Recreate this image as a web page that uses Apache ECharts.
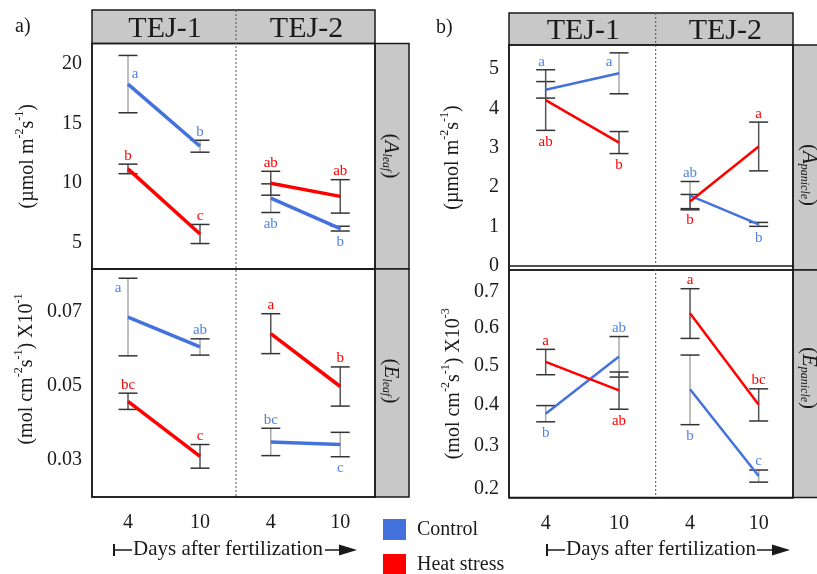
<!DOCTYPE html>
<html>
<head>
<meta charset="utf-8">
<script src="https://cdn.jsdelivr.net/npm/echarts@6/dist/echarts.min.js"></script>
<style>
  html, body { margin: 0; padding: 0; background: #fff; }
  #main { width: 817px; height: 574px; }
</style>
</head>
<body>
<div id="main"></div>
<script>
// x categories (days after fertilization) and the two treatments
const days = ['4', '10'];
const groups = ['Control', 'Heat stress'];
const lines = ['TEJ-1', 'TEJ-2'];

// every value array is [TEJ-1 [day4, day10], TEJ-2 [day4, day10]]
// a) A leaf (µmol m-2 s-1)
const aLeafCtrl = [[18.3, 13.1], [8.75, 6.2]];
const aLeafCtrlSe = [[2.4, 0.5], [1.2, 0.2]];
const aLeafHeat = [[11.2, 5.75], [10.0, 8.9]];
const aLeafHeatSe = [[0.4, 0.8], [1.0, 1.4]];
const aLeafCtrlLetters = [['a', 'b'], ['ab', 'b']];
const aLeafHeatLetters = [['b', 'c'], ['ab', 'ab']];

// a) E leaf (mol cm-2 s-1 x10-1)
const eLeafCtrl = [[0.0685, 0.0604], [0.0347, 0.0340]];
const eLeafCtrlSe = [[0.0105, 0.0022], [0.0037, 0.0033]];
const eLeafHeat = [[0.0457, 0.0308], [0.0640, 0.0497]];
const eLeafHeatSe = [[0.0022, 0.0032], [0.0054, 0.0053]];
const eLeafCtrlLetters = [['a', 'ab'], ['bc', 'c']];
const eLeafHeatLetters = [['bc', 'c'], ['a', 'b']];

// b) A panicle (µmol m-2 s-1)
const aPanCtrl = [[4.47, 4.89], [1.78, 1.05]];
const aPanCtrlSe = [[0.21, 0.52], [0.36, 0.05]];
const aPanHeat = [[4.21, 3.13], [1.63, 3.03]];
const aPanHeatSe = [[0.77, 0.28], [0.18, 0.62]];
const aPanCtrlLetters = [['a', 'a'], ['ab', 'b']];
const aPanHeatLetters = [['ab', 'b'], ['b', 'a']];

// b) E panicle (mol cm-2 s-1 x10-3)
const ePanCtrl = [[0.379, 0.524], [0.440, 0.230]];
const ePanCtrlSe = [[0.020, 0.053], [0.088, 0.014]];
const ePanHeat = [[0.510, 0.437], [0.640, 0.401]];
const ePanHeatSe = [[0.033, 0.047], [0.068, 0.040]];
const ePanCtrlLetters = [['b', 'ab'], ['b', 'c']];
const ePanHeatLetters = [['a', 'ab'], ['a', 'bc']];

// tick values
const aLeafTicks = [5, 7.5, 10, 12.5, 15, 17.5, 20];
const aLeafLabels = [5, 10, 15, 20];
const eLeafTicks = [0.03, 0.04, 0.05, 0.06, 0.07];
const eLeafLabels = [0.03, 0.05, 0.07];
const aPanTicks = [0, 1, 2, 3, 4, 5];
const ePanTicks = [0.2, 0.3, 0.4, 0.5, 0.6, 0.7];

// where each letter sits: u = above bar, t = higher above bar, d = below bar,
// l / r = beside the top of the bar
const aLeafCtrlSide = [['r', 'u'], ['d', 'd']];
const aLeafHeatSide = [['u', 'u'], ['u', 'u']];
const eLeafCtrlSide = [['l', 'u'], ['u', 'd']];
const eLeafHeatSide = [['u', 'u'], ['u', 'u']];
const aPanCtrlSide = [['t', 'l'], ['u', 'd']];
const aPanHeatSide = [['d', 'd'], ['d', 'u']];
const ePanCtrlSide = [['d', 'u'], ['d', 'u']];
const ePanHeatSide = [['u', 'd'], ['u', 'u']];

const serif = '"Liberation Serif", "Times New Roman", serif';
const blue = '#4472dc';
const blueText = '#5383e3';
const red = '#ff0000';
const ink = '#1a1a1a';
const grey = '#c8c8c8';

const same = v => v;
// the E panicle axis of the original is squeezed towards the top, ln(v + 2) follows it
const squash = v => Math.log(v + 2);

const panels = [
  { ctrl: aLeafCtrl, ctrlSe: aLeafCtrlSe, heat: aLeafHeat, heatSe: aLeafHeatSe,
    ctrlLetters: aLeafCtrlLetters, heatLetters: aLeafHeatLetters, ctrlSide: aLeafCtrlSide, heatSide: aLeafHeatSide,
    cols: [[92, 144], [236, 139]], top: 43.5, height: 225.5, min: 2.82, max: 21.7,
    ticks: aLeafTicks, labels: aLeafLabels, tf: same, lw: 3.5, bottom: false,
    name: '(µmol m{s|-2}s{s|-1})', nameGap: 50, namePad: 0 },
  { ctrl: eLeafCtrl, ctrlSe: eLeafCtrlSe, heat: eLeafHeat, heatSe: eLeafHeatSe,
    ctrlLetters: eLeafCtrlLetters, heatLetters: eLeafHeatLetters, ctrlSide: eLeafCtrlSide, heatSide: eLeafHeatSide,
    cols: [[92, 144], [236, 139]], top: 269, height: 228, min: 0.0198, max: 0.0815,
    ticks: eLeafTicks, labels: eLeafLabels, tf: same, lw: 3.5, bottom: true,
    name: '(mol cm{s|-2}s{s|-1}) X10{s|-1}', nameGap: 51, namePad: 28 },
  { ctrl: aPanCtrl, ctrlSe: aPanCtrlSe, heat: aPanHeat, heatSe: aPanHeatSe,
    ctrlLetters: aPanCtrlLetters, heatLetters: aPanHeatLetters, ctrlSide: aPanCtrlSide, heatSide: aPanHeatSide,
    cols: [[509, 146.7], [655.7, 137.3]], top: 45, height: 225, min: -0.11, max: 5.61,
    ticks: aPanTicks, labels: aPanTicks, tf: same, lw: 2.5, bottom: false,
    name: '(µmol m{s|-2}s{s|-1})', nameGap: 42, namePad: 0 },
  { ctrl: ePanCtrl, ctrlSe: ePanCtrlSe, heat: ePanHeat, heatSe: ePanHeatSe,
    ctrlLetters: ePanCtrlLetters, heatLetters: ePanHeatLetters, ctrlSide: ePanCtrlSide, heatSide: ePanHeatSide,
    cols: [[509, 146.7], [655.7, 137.3]], top: 270, height: 227.5, min: squash(0.181), max: squash(0.761),
    ticks: ePanTicks, labels: ePanTicks, tf: squash, lw: 2.5, bottom: true,
    name: '(mol cm{s|-2}s{s|-1}) X10{s|-3}', nameGap: 41, namePad: 0 }
];

function errorBars(g, means, ses, letters, sides, tf, barColor, letterColor) {
  return {
    type: 'custom', xAxisIndex: g, yAxisIndex: g, z: 2, silent: true,
    data: means.map((m, i) => [i, tf(m - ses[i]), tf(m + ses[i]), tf(m)]),
    renderItem: function (params, api) {
      const i = api.value(0);
      const x = api.coord([i, api.value(3)])[0];
      const yLo = api.coord([i, api.value(1)])[1];
      const yHi = api.coord([i, api.value(2)])[1];
      const yMid = api.coord([i, api.value(3)])[1];
      const side = sides[params.dataIndex];
      let tx = x, ty = yHi - 1, va = 'bottom';
      if (side === 't') { tx = x - 4; ty = yHi - 12; }
      if (side === 'd') { ty = yLo + 4; va = 'top'; }
      if (side === 'l') { tx = x - 10; ty = yHi + 2; va = 'top'; }
      if (side === 'r') { tx = x + 7; ty = yMid - 3; va = 'bottom'; }
      const cap = 9.5;
      return {
        type: 'group',
        children: [
          { type: 'line', shape: { x1: x, y1: yHi, x2: x, y2: yLo }, style: { stroke: barColor, lineWidth: 1.5 } },
          { type: 'line', shape: { x1: x - cap, y1: yHi, x2: x + cap, y2: yHi }, style: { stroke: '#333', lineWidth: 1.5 } },
          { type: 'line', shape: { x1: x - cap, y1: yLo, x2: x + cap, y2: yLo }, style: { stroke: '#333', lineWidth: 1.5 } },
          { type: 'text', x: tx, y: ty,
            style: { text: letters[params.dataIndex], fill: letterColor, font: '15px ' + serif, align: 'center', verticalAlign: va } }
        ]
      };
    }
  };
}

const grid = [], xAxis = [], innerX = [], yAxis = [], series = [];

panels.forEach((p, pi) => {
  p.cols.forEach((col, c) => {
    const g = pi * 2 + c;
    grid.push({ left: col[0], top: p.top, width: col[1], height: p.height });
    xAxis.push({
      gridIndex: g, type: 'category', data: days, position: 'bottom',
      axisLine: { show: true, lineStyle: { color: ink, width: 1.5 } },
      axisTick: { alignWithLabel: true, length: 4, lineStyle: { color: ink, width: 1.5 } },
      axisLabel: { show: p.bottom, margin: 16, fontFamily: serif, fontSize: 20, color: ink }
    });
    innerX.push({
      gridIndex: g, type: 'category', data: days, position: 'bottom',
      axisLine: { show: false },
      axisTick: { inside: true, alignWithLabel: true, length: 4, lineStyle: { color: ink, width: 1.5 } },
      axisLabel: { show: false }
    });
    yAxis.push({
      gridIndex: g, type: 'value', show: c === 0, min: p.min, max: p.max,
      splitLine: { show: false },
      axisLine: { show: true, lineStyle: { color: ink, width: 1.5 } },
      axisTick: { customValues: p.ticks.map(p.tf), length: 6, lineStyle: { color: ink, width: 1.5 } },
      axisLabel: {
        customValues: p.labels.map(p.tf), margin: 10, fontFamily: serif, fontSize: 20, color: ink,
        formatter: p.tf === squash ? v => (Math.exp(v) - 2).toFixed(1) : v => String(v)
      },
      name: p.name, nameLocation: 'middle', nameRotate: 90, nameGap: p.nameGap,
      nameTextStyle: {
        fontFamily: serif, fontSize: 20, color: ink, lineHeight: 28, padding: [0, 0, 0, p.namePad],
        rich: { s: { fontFamily: serif, fontSize: 12, lineHeight: 12, color: ink, verticalAlign: 'top' } }
      }
    });
    const sets = [
      [groups[0], p.ctrl[c], p.ctrlSe[c], p.ctrlLetters[c], p.ctrlSide[c], blue, '#a8a8a8', blueText],
      [groups[1], p.heat[c], p.heatSe[c], p.heatLetters[c], p.heatSide[c], red, '#555', red]
    ];
    sets.forEach(s => {
      series.push({
        type: 'line', name: s[0], xAxisIndex: g, yAxisIndex: g, z: 3, silent: true,
        data: s[1].map(p.tf), symbol: 'none',
        lineStyle: { color: s[5], width: p.lw }, itemStyle: { color: s[5] }
      });
      series.push(errorBars(g, s[1], s[2], s[3], s[4], p.tf, s[6], s[7]));
    });
  });
});

// strips, frames and the day arrows around the two panels
const graphic = [];
function frame(x0, xm, x1, yHead, yTop, yMid, yBot, strips, stripY) {
  graphic.push({ type: 'rect', shape: { x: x0, y: yHead, width: x1 - x0, height: yTop - yHead },
    style: { fill: grey, stroke: ink, lineWidth: 1.5 } });
  graphic.push({ type: 'rect', shape: { x: x1, y: yTop, width: 34, height: yMid - yTop },
    style: { fill: grey, stroke: ink, lineWidth: 1.5 } });
  graphic.push({ type: 'rect', shape: { x: x1, y: yMid, width: 34, height: yBot - yMid },
    style: { fill: grey, stroke: ink, lineWidth: 1.5 } });
  graphic.push({ type: 'rect', shape: { x: x0, y: yTop, width: x1 - x0, height: yMid - yTop },
    style: { fill: null, stroke: ink, lineWidth: 1.5 }, z: 50 });
  graphic.push({ type: 'rect', shape: { x: x0, y: yMid, width: x1 - x0, height: yBot - yMid },
    style: { fill: null, stroke: ink, lineWidth: 1.5 }, z: 50 });
  graphic.push({ type: 'line', shape: { x1: xm, y1: yHead, x2: xm, y2: yBot },
    style: { stroke: '#555', lineWidth: 1, lineDash: [2, 2] }, z: 50 });
  [(x0 + xm) / 2, (xm + x1) / 2].forEach((cx, k) => {
    graphic.push({ type: 'text', x: cx + 1, y: (yHead + yTop) / 2 + 2,
      style: { text: lines[k], font: '30px ' + serif, fill: ink, align: 'center', verticalAlign: 'middle' } });
  });
  strips.forEach((s, k) => {
    graphic.push({ type: 'text', x: x1 + 16, y: stripY[k], rotation: -Math.PI / 2,
      style: {
        text: '{p|(}{i|' + s[0] + '}{sub|' + s[1] + '}{p|)}',
        align: 'center', verticalAlign: 'middle', fill: ink,
        rich: {
          p: { fontFamily: serif, fontSize: 21, fill: ink },
          i: { fontFamily: serif, fontSize: 21, fontStyle: 'italic', fill: ink },
          sub: { fontFamily: serif, fontSize: 12, fontStyle: 'italic', fill: ink, verticalAlign: 'bottom' }
        }
      } });
  });
}
frame(92, 236, 375, 10, 43.5, 269, 497, [['A', 'leaf'], ['E', 'leaf']], [156, 381]);
frame(509, 655.7, 793, 13, 45, 270, 497.5, [['A', 'panicle'], ['E', 'panicle']], [175, 378]);

function daysArrow(x0, textX, lineEnd, tip, y) {
  graphic.push({ type: 'line', shape: { x1: x0, y1: y - 6, x2: x0, y2: y + 6 }, style: { stroke: ink, lineWidth: 2 } });
  graphic.push({ type: 'line', shape: { x1: x0, y1: y, x2: textX - 1, y2: y }, style: { stroke: ink, lineWidth: 1.5 } });
  graphic.push({ type: 'text', x: textX, y: y - 1,
    style: { text: 'Days after fertilization', font: '21px ' + serif, fill: ink, verticalAlign: 'middle' } });
  graphic.push({ type: 'line', shape: { x1: lineEnd[0], y1: y, x2: lineEnd[1], y2: y }, style: { stroke: ink, lineWidth: 1.5 } });
  graphic.push({ type: 'polygon', shape: { points: [[lineEnd[1], y - 5.5], [tip, y], [lineEnd[1], y + 5.5]] }, style: { fill: ink } });
}
daysArrow(114, 133, [325, 339], 357, 550);
daysArrow(547, 566, [757, 772], 790, 550);

graphic.push({ type: 'text', x: 15, y: 27, style: { text: 'a)', font: '20px ' + serif, fill: ink, verticalAlign: 'middle' } });
graphic.push({ type: 'text', x: 436, y: 28, style: { text: 'b)', font: '20px ' + serif, fill: ink, verticalAlign: 'middle' } });

const chart = echarts.init(document.getElementById('main'));
chart.setOption({
  animation: false,
  backgroundColor: '#fff',
  grid: grid,
  xAxis: xAxis.concat(innerX),
  yAxis: yAxis,
  legend: {
    data: groups, orient: 'vertical', left: 383, top: 519, height: 70, padding: 0, icon: 'rect',
    itemWidth: 23, itemHeight: 21, itemGap: 14, selectedMode: false,
    textStyle: { fontFamily: serif, fontSize: 20, color: ink, padding: [0, 0, 0, 6] }
  },
  graphic: graphic,
  series: series
});
</script>
</body>
</html>
